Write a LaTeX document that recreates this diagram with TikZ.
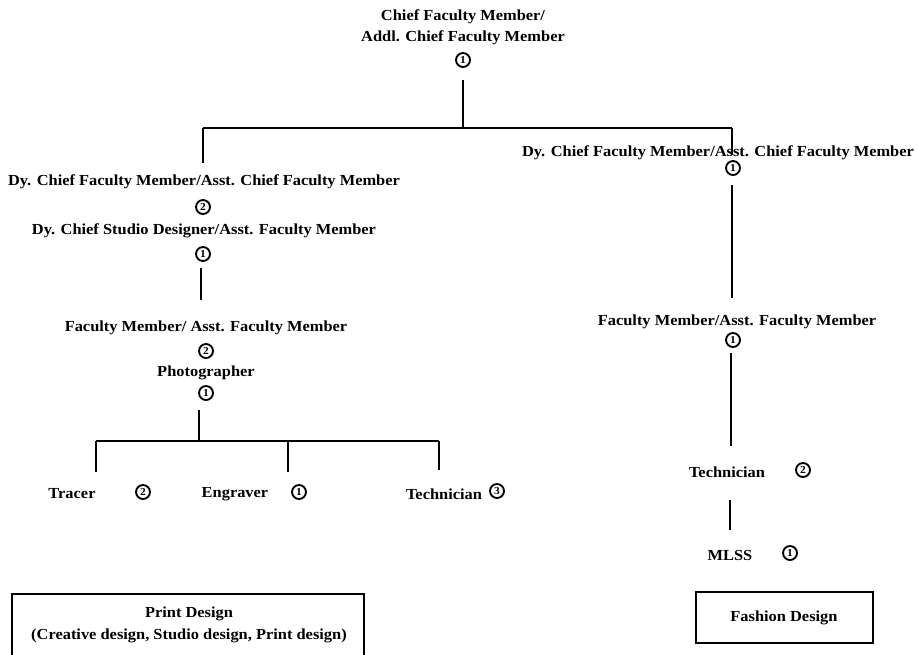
\documentclass[tikz,border=0pt]{standalone}
\usepackage{fontspec}
\setmainfont{Liberation Serif}[FakeStretch=1.07]
\begin{document}
\begin{tikzpicture}[x=0.75pt,y=-0.75pt,
  lbl/.style={font=\bfseries\fontsize{11.5}{13}\selectfont, inner sep=0pt, anchor=center},
  num/.style={circle, draw, line width=1.4pt, minimum size=10.5pt, inner sep=0pt,
              font=\bfseries\fontsize{8}{8}\selectfont},
  wire/.style={line width=1.6pt},
  unitbox/.style={line width=1.6pt}]
\useasboundingbox (0,0) rectangle (918,654);

% head of department
\node[lbl] (top1) at (463,17) {Chief Faculty Member/};
\node[lbl] (top2) at (463,38) {Addl. Chief Faculty Member};
\node[num] (topn) at (463,60) {1};

% left branch: print design
\node[lbl] (l1) at (204,182) {Dy. Chief Faculty Member/Asst. Chief Faculty Member};
\node[num] (l1n) at (203,207) {2};
\node[lbl] (l2) at (204,231) {Dy. Chief Studio Designer/Asst. Faculty Member};
\node[num] (l2n) at (203,254) {1};
\node[lbl] (l3) at (206,328) {Faculty Member/ Asst. Faculty Member};
\node[num] (l3n) at (206,351) {2};
\node[lbl] (l4) at (206,373) {Photographer};
\node[num] (l4n) at (206,393) {1};

\node[lbl] (tr) at (72,494) {Tracer};
\node[num] (trn) at (143,492) {2};
\node[lbl] (en) at (235,494) {Engraver};
\node[num] (enn) at (299,492) {1};
\node[lbl] (te) at (444,494) {Technician};
\node[num] (ten) at (497,491) {3};

% right branch: fashion design
\node[lbl] (r1) at (718,153) {Dy. Chief Faculty Member/Asst. Chief Faculty Member};
\node[num] (r1n) at (733,168) {1};
\node[lbl] (r2) at (737,322) {Faculty Member/Asst. Faculty Member};
\node[num] (r2n) at (733,340) {1};
\node[lbl] (r3) at (727,472) {Technician};
\node[num] (r3n) at (803,470) {2};
\node[lbl] (r4) at (730,555) {MLSS};
\node[num] (r4n) at (790,553) {1};

% connectors
\coordinate (tj) at (463,128);
\coordinate (lj) at (203,128);
\coordinate (rj) at (732,128);
\draw[wire] (463,80) -- (tj);
\draw[wire] (lj) -- (rj);
\draw[wire] (lj) -- (203,163);
\draw[wire] (rj) -- (732,155);

\draw[wire] (201,268) -- (201,300);

\coordinate (bj) at (199,441);
\draw[wire] (199,410) -- (bj);
\draw[wire] (96,441) -- (439,441);
\draw[wire] (96,441) -- (96,472);
\draw[wire] (288,441) -- (288,472);
\draw[wire] (439,441) -- (439,470);

\draw[wire] (732,185) -- (732,298);
\draw[wire] (731,353) -- (731,446);
\draw[wire] (730,500) -- (730,530);

% unit boxes
\draw[unitbox] (12,660) -- (12,594) -- (364,594) -- (364,660);
\node[lbl] (pd1) at (189,614) {Print Design};
\node[lbl] (pd2) at (189,636) {(Creative design, Studio design, Print design)};

\draw[unitbox] (696,592) rectangle (873,643);
\node[lbl] (fd) at (784,618) {Fashion Design};
\end{tikzpicture}
\end{document}
